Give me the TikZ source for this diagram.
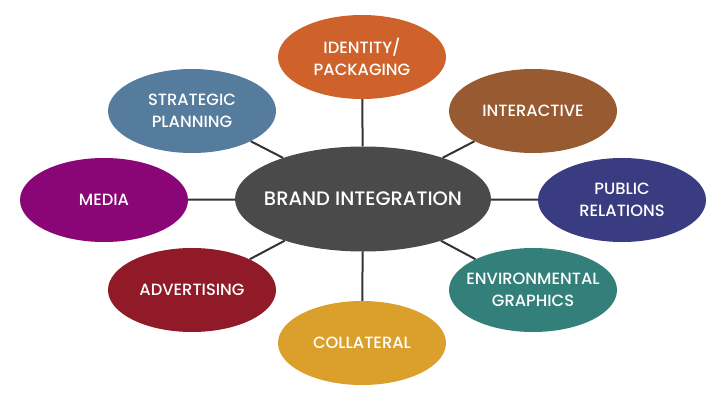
\documentclass[tikz,border=0pt]{standalone}
\usepackage{fontspec}
\setmainfont{Poppins}[UprightFont={* Medium}]
\usepackage{xcolor}
\usetikzlibrary{shapes.geometric}

\definecolor{hubgray}{HTML}{4A4A4A}
\definecolor{idorange}{HTML}{CF622A}
\definecolor{intbrown}{HTML}{985A30}
\definecolor{prnavy}{HTML}{3A3C82}
\definecolor{envteal}{HTML}{33807A}
\definecolor{colgold}{HTML}{DBA02B}
\definecolor{advred}{HTML}{901A28}
\definecolor{medpurple}{HTML}{8A0575}
\definecolor{stratblue}{HTML}{557C9C}
\definecolor{linkgray}{HTML}{333333}

\begin{document}
\begin{tikzpicture}[x=1pt, y=-1pt,
  bubble/.style={ellipse, inner sep=0pt, minimum width=168pt, minimum height=84pt},
  hub/.style={bubble, fill=hubgray, minimum width=256pt, minimum height=105pt},
  txt/.style={text=white, align=center, inner sep=0pt, font=\fontsize{16.3}{21.5}\selectfont},
  hubtxt/.style={txt, font=\fontsize{19.5}{22}\selectfont},
  link/.style={draw=linkgray, line width=2pt}]
%%%%% Frame %%%%%
\useasboundingbox (0,0) rectangle (723,400);
%%%%% Nodes %%%%%
\node[hub, label={[hubtxt]center:BRAND INTEGRATION}] (hub) at (363,199) {};
\node[bubble, fill=idorange, label={[txt]center:IDENTITY/\\PACKAGING}] (iden) at (362,57) {};
\node[bubble, fill=intbrown, label={[txt]center:INTERACTIVE}] (inter) at (533,111) {};
\node[bubble, fill=prnavy, label={[txt]center:PUBLIC\\RELATIONS}] (public) at (622,200) {};
\node[bubble, fill=envteal, label={[txt]center:ENVIRONMENTAL\\GRAPHICS}] (envir) at (533,290) {};
\node[bubble, fill=colgold, label={[txt]center:COLLATERAL}] (coll) at (362,343) {};
\node[bubble, fill=advred, label={[txt]center:ADVERTISING}] (adv) at (192,290) {};
\node[bubble, fill=medpurple, label={[txt]center:MEDIA}] (media) at (104,200) {};
\node[bubble, fill=stratblue, label={[txt]center:STRATEGIC\\PLANNING}] (strat) at (192,111) {};
%%%%% Links %%%%%
\foreach \n in {iden,inter,public,envir,coll,adv,media,strat}{
\draw[link] (hub) -- (\n);
}
\end{tikzpicture}
\end{document}
